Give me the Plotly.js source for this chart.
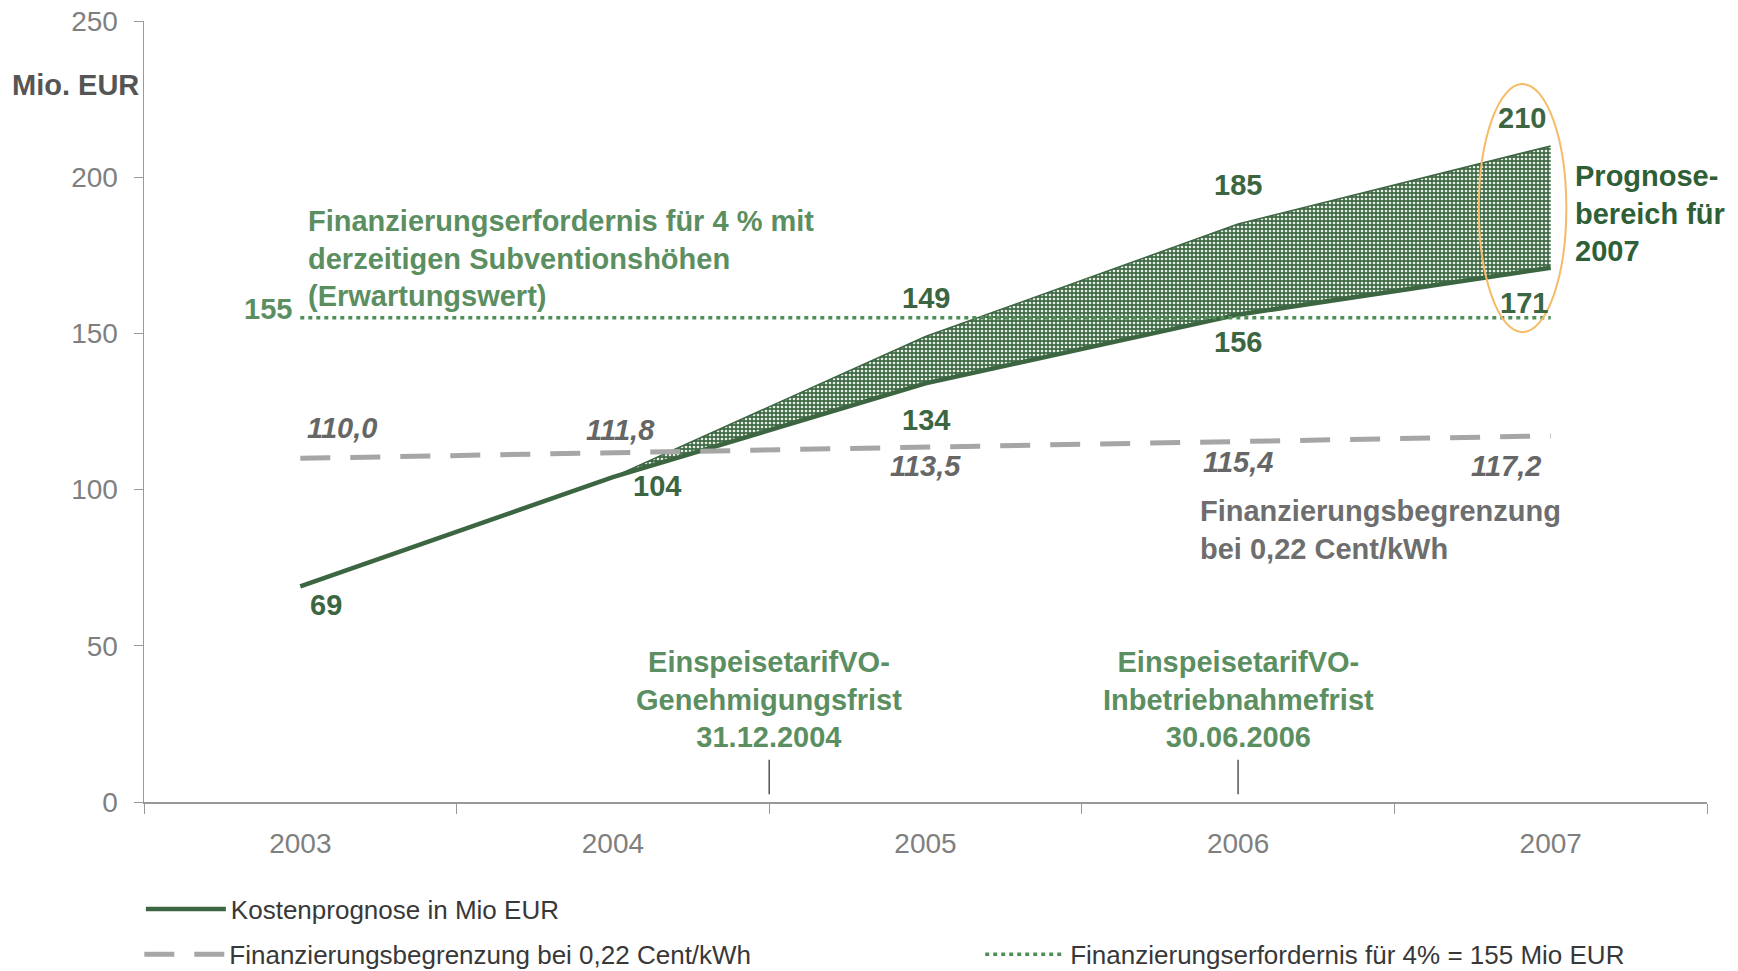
<!DOCTYPE html>
<html>
<head>
<meta charset="utf-8">
<script src="https://cdn.plot.ly/plotly-3.0.1.min.js"></script>
<style>
html, body { margin: 0; padding: 0; background: #fff; }
#chart { width: 1738px; height: 971px; }
</style>
</head>
<body>
<div id="chart"></div>
<script>
// Werte
const years = ['2003', '2004', '2005', '2006', '2007'];
const kostenUnten = [69, 104, 134, 156, 171];
const bandJahre = ['2004', '2005', '2006', '2007'];
const bandUnten = [104, 134, 156, 171];
const bandOben = [104, 149, 185, 210];
const begrenzung = [110.0, 111.8, 113.5, 115.4, 117.2];
const erfordernis = [155, 155, 155, 155, 155];
const yTicks = [0, 50, 100, 150, 200, 250];

const FONT = 'Liberation Sans, Arial, sans-serif';
const dunkelgruen = '#3c6642';
const mittelgruen = '#5b8f61';
const grau = '#a6a6a6';
const BOLD = 29;

const traces = [
    {
        x: bandJahre, y: bandUnten, type: 'scatter', mode: 'lines',
        line: { width: 0, color: dunkelgruen }, showlegend: false, hoverinfo: 'skip'
    },
    {
        x: bandJahre, y: bandOben, type: 'scatter', mode: 'lines',
        line: { width: 1.5, color: dunkelgruen },
        fill: 'tonexty', fillcolor: '#416b47',
        fillpattern: { shape: '.', bgcolor: '#416b47', fgcolor: '#e8eee8', size: 4, solidity: 0.35, fillmode: 'replace' },
        showlegend: false, hoverinfo: 'skip'
    },
    {
        x: years, y: kostenUnten, type: 'scatter', mode: 'lines',
        name: 'Kostenprognose in Mio EUR', legend: 'legend',
        line: { width: 4.5, color: dunkelgruen }
    },
    {
        x: years, y: begrenzung, type: 'scatter', mode: 'lines',
        name: 'Finanzierungsbegrenzung bei 0,22 Cent/kWh', legend: 'legend2',
        line: { width: 5, color: grau, dash: '30px,20px' }
    },
    {
        x: years, y: erfordernis, type: 'scatter', mode: 'lines',
        name: 'Finanzierungserfordernis für 4% = 155 Mio EUR', legend: 'legend3',
        line: { width: 3.5, color: '#4f8f57', dash: '4px,4px' }
    }
];

const annotations = [];

function label(i, y, text, dx, dy, color, italic) {
    annotations.push({
        x: i, y: y, xref: 'x', yref: 'y', text: text, showarrow: false,
        xanchor: 'center', yanchor: 'middle', xshift: dx, yshift: dy,
        font: { family: FONT, size: BOLD, color: color, weight: 700, style: italic ? 'italic' : 'normal' }
    });
}

// Kostenprognose untere Linie
const untenShift = [[26, -19], [44, -9], [0, -37], [0, -27], [-27, -35]];
kostenUnten.forEach((v, i) => label(i, v, String(v), untenShift[i][0], untenShift[i][1], dunkelgruen, false));

// obere Grenze des Prognosebereichs (ab 2005)
const obenShift = [[0, 39], [0, 39], [-29, 28]];
bandOben.slice(1).forEach((v, k) => {
    const i = years.indexOf(bandJahre[k + 1]);
    label(i, v, String(v), obenShift[k][0], obenShift[k][1], dunkelgruen, false);
});

// Finanzierungsbegrenzung
const grauShift = [[42, 30], [8, 23], [0, -19], [0, -21], [-45, -30]];
begrenzung.forEach((v, i) => label(i, v, v.toFixed(1).replace('.', ','), grauShift[i][0], grauShift[i][1], '#666666', true));

// 155
annotations.push({
    x: 0, y: erfordernis[0], xref: 'x', yref: 'y', text: String(erfordernis[0]), showarrow: false,
    xanchor: 'right', yanchor: 'middle', xshift: -6, yshift: 9,
    font: { family: FONT, size: BOLD, color: mittelgruen, weight: 700 }
});

// Textbloecke
const textBloecke = [
    { x: 0, y: 155, xanchor: 'left', yanchor: 'bottom', xshift: 6, yshift: 4, align: 'left', color: mittelgruen,
      text: 'Finanzierungserfordernis für 4 % mit<br>derzeitigen Subventionshöhen<br>(Erwartungswert)' },
    { x: 3, y: 99, xanchor: 'left', yanchor: 'top', xshift: -40, yshift: 0, align: 'left', color: '#6e6e6e',
      text: 'Finanzierungsbegrenzung<br>bei 0,22 Cent/kWh' },
    { x: 4, y: 206, xanchor: 'left', yanchor: 'top', xshift: 22, yshift: 0, align: 'left', color: '#2f5f37',
      text: 'Prognose-<br>bereich für<br>2007' },
    { x: 1.5, y: 15, xanchor: 'center', yanchor: 'bottom', xshift: 0, yshift: 0, align: 'center', color: mittelgruen,
      text: 'EinspeisetarifVO-<br>Genehmigungsfrist<br>31.12.2004' },
    { x: 3, y: 15, xanchor: 'center', yanchor: 'bottom', xshift: 0, yshift: 0, align: 'center', color: mittelgruen,
      text: 'EinspeisetarifVO-<br>Inbetriebnahmefrist<br>30.06.2006' }
];
textBloecke.forEach(b => annotations.push({
    x: b.x, y: b.y, xref: 'x', yref: 'y', text: b.text, showarrow: false,
    xanchor: b.xanchor, yanchor: b.yanchor, xshift: b.xshift, yshift: b.yshift, align: b.align,
    font: { family: FONT, size: BOLD, color: b.color, weight: 700 }
}));

// Einheit
annotations.push({
    x: -0.086, y: 0.918, xref: 'paper', yref: 'paper', text: 'Mio. EUR', showarrow: false,
    xanchor: 'left', yanchor: 'middle',
    font: { family: FONT, size: BOLD, color: '#555555', weight: 700 }
});

const shapes = [
    { type: 'circle', xref: 'x', yref: 'y', x0: 3.77, x1: 4.05, y0: 150.4, y1: 229.8,
      line: { color: '#f6bb66', width: 2 } },
    { type: 'line', xref: 'x', yref: 'y', x0: 1.5, x1: 1.5, y0: 2.5, y1: 13.5,
      line: { color: '#555555', width: 1.5 } },
    { type: 'line', xref: 'x', yref: 'y', x0: 3, x1: 3, y0: 2.5, y1: 13.5,
      line: { color: '#555555', width: 1.5 } }
];

const legendBasis = {
    orientation: 'h', xanchor: 'left', yanchor: 'middle', itemwidth: 80,
    bgcolor: 'rgba(0,0,0,0)', font: { family: FONT, size: 26, color: '#383838' }
};

const layout = {
    width: 1738, height: 971,
    margin: { l: 144, r: 31, t: 21, b: 169, autoexpand: false },
    paper_bgcolor: '#ffffff', plot_bgcolor: '#ffffff',
    font: { family: FONT },
    xaxis: {
        type: 'category', categoryorder: 'array', categoryarray: years,
        range: [-0.5, 4.5], tickson: 'boundaries', ticks: 'outside', ticklen: 10,
        tickcolor: '#999999', showline: true, linecolor: '#999999', linewidth: 1.5,
        showgrid: false, zeroline: false, ticklabelstandoff: 16,
        tickfont: { family: FONT, size: 28, color: '#7f7f7f' }
    },
    yaxis: {
        range: [0, 250], tickvals: yTicks, ticks: 'outside', ticklen: 9,
        tickcolor: '#999999', showline: true, linecolor: '#999999', linewidth: 1.5,
        showgrid: false, zeroline: false, ticklabelstandoff: 10,
        tickfont: { family: FONT, size: 28, color: '#7f7f7f' }
    },
    legend: Object.assign({}, legendBasis, { x: -0.002, y: -0.137 }),
    legend2: Object.assign({}, legendBasis, { x: -0.003, y: -0.195 }),
    legend3: Object.assign({}, legendBasis, { x: 0.535, y: -0.195 }),
    annotations: annotations,
    shapes: shapes,
    showlegend: true
};

Plotly.newPlot('chart', traces, layout, { displayModeBar: false, staticPlot: true });
</script>
</body>
</html>
